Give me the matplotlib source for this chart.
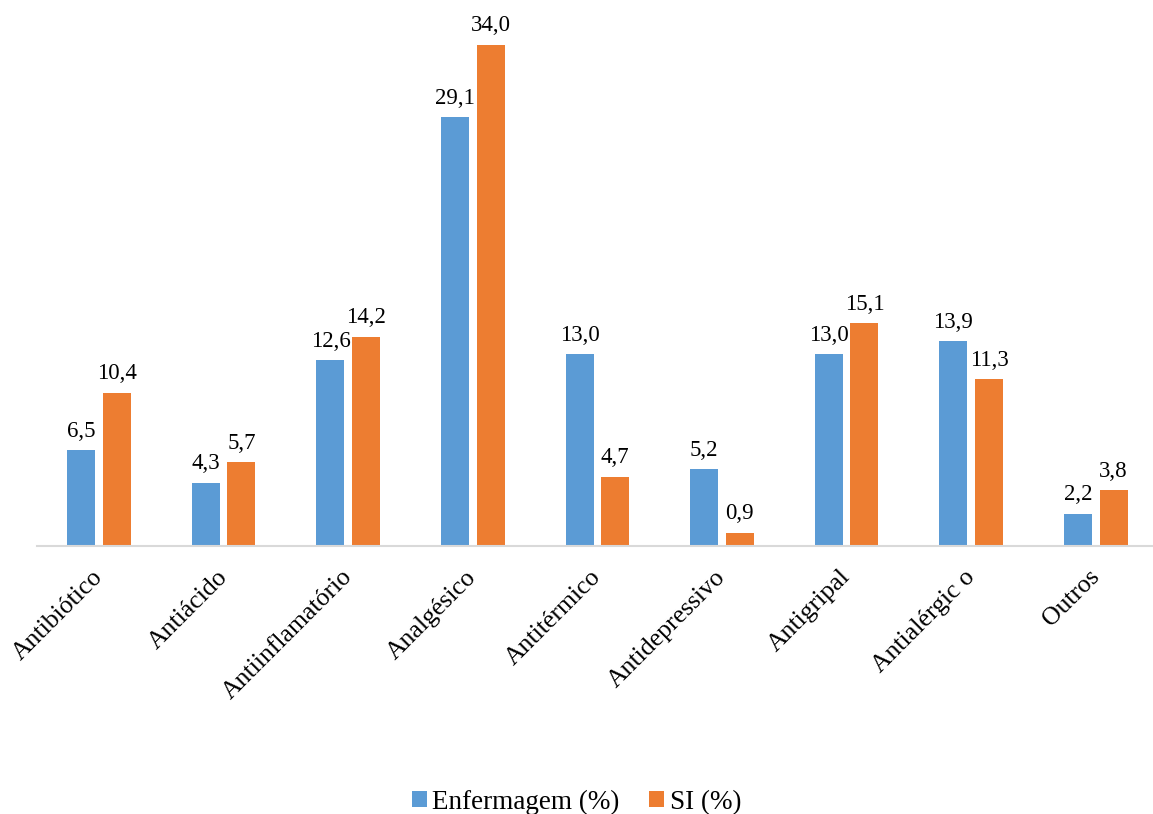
import matplotlib.pyplot as plt
import numpy as np

categories = ['Antibiótico', 'Antiácido', 'Antiinflamatório', 'Analgésico', 'Antitérmico',
              'Antidepressivo', 'Antigripal', 'Antialérgic o', 'Outros']
enfermagem = [6.5, 4.3, 12.6, 29.1, 13.0, 5.2, 13.0, 13.9, 2.2]
si = [10.4, 5.7, 14.2, 34.0, 4.7, 0.9, 15.1, 11.3, 3.8]

plt.rcParams['font.family'] = ['Liberation Serif', 'DejaVu Serif']

fig = plt.figure(figsize=(11.53, 8.14), dpi=100)
ax = fig.add_axes([0.0321, 0.3292, 0.9726, 0.652])

x = np.arange(len(categories))
w = 0.225
b1 = ax.bar(x - 0.145, enfermagem, w, color='#5B9BD5', label='Enfermagem (%)')
b2 = ax.bar(x + 0.14, si, w, color='#ED7D31', label='SI (%)')

for bars, vals in ((b1, enfermagem), (b2, si)):
    for rect, v in zip(bars, vals):
        ax.annotate(f'{v:.1f}'.replace('.', ','),
                    (rect.get_x() + rect.get_width() / 2, rect.get_height()),
                    xytext=(0, 6), textcoords='offset points',
                    ha='center', va='bottom', fontsize=16.5)

ax.set_xlim(-0.5, len(categories) - 0.5)
ax.set_ylim(0, 36)
ax.set_yticks([])
for s in ['top', 'right', 'left']:
    ax.spines[s].set_visible(False)
ax.spines['bottom'].set_color('#d9d9d9')
ax.spines['bottom'].set_linewidth(1.5)
ax.set_xticks(x)
ax.set_xticklabels(categories, rotation=45, ha='right', va='center',
                   rotation_mode='anchor', fontsize=18.5)
ax.tick_params(axis='x', length=0, pad=20)

fig.legend(loc='lower center', bbox_to_anchor=(0.5, -0.031), ncol=2, frameon=False,
           fontsize=19.5, handlelength=0.55, handleheight=0.55, columnspacing=1.1,
           handletextpad=0.2)

fig.savefig('out.png', dpi=100)
